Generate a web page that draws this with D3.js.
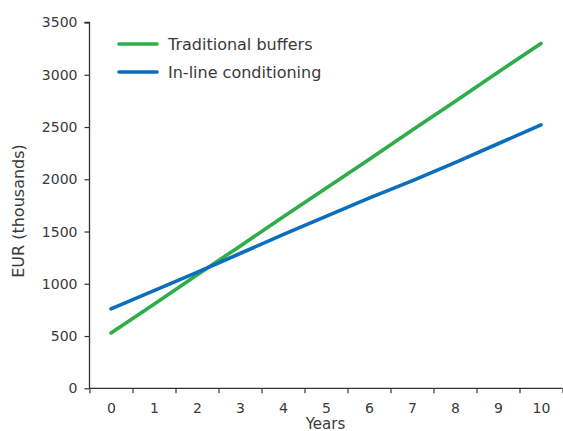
<!DOCTYPE html>
<html><head><meta charset="utf-8">
<script src="https://cdn.jsdelivr.net/npm/d3@7"></script>
<style>
html,body{margin:0;padding:0;background:#fff;}
svg{display:block;font-family:"DejaVu Sans",sans-serif;}
</style></head>
<body>
<svg id="chart" width="563" height="431"></svg>
<script>
const years = [0,1,2,3,4,5,6,7,8,9,10];
const traditionalBuffers = [530,805,1085,1360,1640,1915,2190,2470,2745,3025,3300];
const inlineConditioning = [760,935,1110,1290,1470,1645,1820,1985,2160,2340,2520];
const yTicks = [0,500,1000,1500,2000,2500,3000,3500];
const seriesNames = ["Traditional buffers","In-line conditioning"];
const seriesColors = ["#2eae4b","#0a6ebd"];

const svg = d3.select("#chart");
const textColor = "#3a3a3a";
const axisColor = "#333";

const x = d3.scaleLinear().domain([-0.5, 10.5]).range([89.5, 562.5]);
const y = d3.scaleLinear().domain([0, 3500]).range([388.3, 22.5]);

// y axis
const yAxis = svg.append("g").attr("transform","translate(89.5,0)")
  .call(d3.axisLeft(y).tickValues(yTicks).tickSize(5).tickPadding(7).tickFormat(d3.format("d")));
yAxis.select(".domain").attr("stroke",axisColor).attr("stroke-width",1.3).attr("d","M-5,22.5H0V388.3");
yAxis.selectAll(".tick line").attr("stroke",axisColor).attr("stroke-width",1.2);
yAxis.selectAll("text").attr("fill",textColor).style("font-size","14px").style("font-family","DejaVu Sans");

// x axis boundary ticks
const bounds = d3.range(-0.5, 11, 1);
const xTickAxis = svg.append("g").attr("transform","translate(0,388.3)")
  .call(d3.axisBottom(x).tickValues(bounds).tickSize(5).tickFormat(""));
xTickAxis.select(".domain").attr("stroke",axisColor).attr("stroke-width",1.3).attr("d","M89.5,0H562.5");
xTickAxis.selectAll(".tick line").attr("stroke",axisColor).attr("stroke-width",1.2);

// x labels
const xLab = svg.append("g").attr("transform","translate(0,388.3)")
  .call(d3.axisBottom(x).tickValues(years).tickSize(0).tickPadding(15).tickFormat(d3.format("d")));
xLab.select(".domain").remove();
xLab.selectAll("text").attr("fill",textColor).style("font-size","14px").style("font-family","DejaVu Sans");

// axis titles
svg.append("text").attr("x",325.5).attr("y",429).attr("text-anchor","middle")
  .attr("fill",textColor).style("font-size","15px").text("Years");
svg.append("text").attr("transform","translate(24,211) rotate(-90)").attr("text-anchor","middle")
  .attr("fill",textColor).style("font-size","16px").text("EUR (thousands)");

// lines
const line = d3.line().x((d,i)=>x(years[i])).y(d=>y(d));
[traditionalBuffers, inlineConditioning].forEach((s,k)=>{
  svg.append("path").datum(s).attr("d",line).attr("fill","none")
    .attr("stroke",seriesColors[k]).attr("stroke-width",3.6).attr("stroke-linecap","round");
});

// legend
const legY = [44, 72];
seriesNames.forEach((n,k)=>{
  svg.append("line").attr("x1",119).attr("x2",157).attr("y1",legY[k]).attr("y2",legY[k])
    .attr("stroke",seriesColors[k]).attr("stroke-width",3.6).attr("stroke-linecap","round");
  svg.append("text").attr("x",168).attr("y",legY[k]).attr("dy","0.35em")
    .attr("fill",textColor).style("font-size","16px").text(n);
});
</script>
</body></html>
